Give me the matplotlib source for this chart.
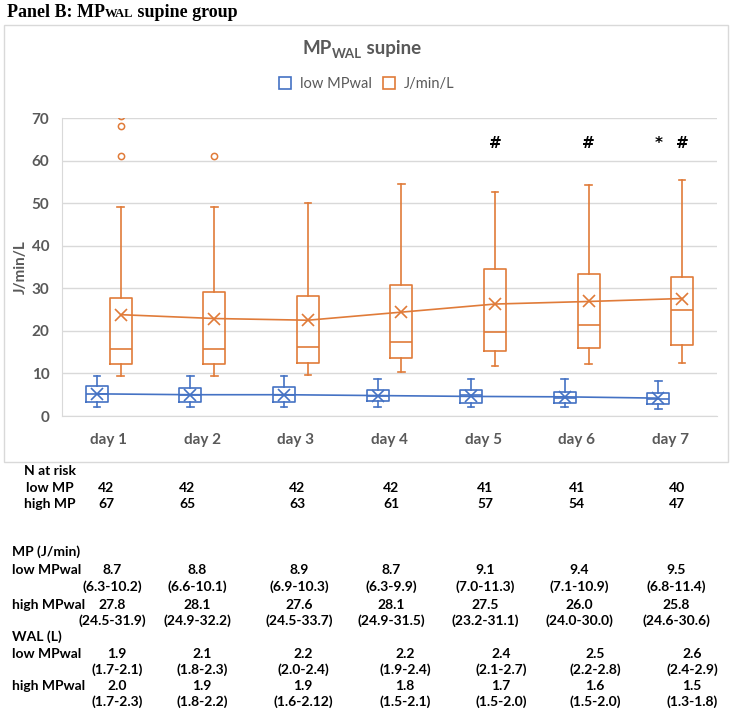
import matplotlib
matplotlib.use('Agg')
import matplotlib.pyplot as plt
from matplotlib.patches import Patch, Rectangle

days = ['day 1', 'day 2', 'day 3', 'day 4', 'day 5', 'day 6', 'day 7']
series = ['low MPwal', 'J/min/L']

low_whislo = [2.2, 2.2, 2.2, 2.2, 2.0, 2.2, 1.6]
low_q1 = [3.4, 3.4, 3.4, 3.5, 3.0, 3.0, 2.8]
low_med = [5.2, 4.9, 5.0, 4.8, 4.9, 4.2, 3.9]
low_q3 = [7.1, 6.5, 6.9, 6.0, 6.0, 5.7, 5.3]
low_whishi = [9.3, 9.3, 9.3, 8.7, 8.7, 8.7, 8.3]
low_mean = [5.2, 5.0, 5.0, 4.8, 4.6, 4.5, 4.2]

high_whislo = [9.4, 9.4, 9.6, 10.4, 11.8, 12.2, 12.4]
high_q1 = [12.3, 12.3, 12.4, 13.6, 15.3, 16.0, 16.6]
high_med = [15.8, 15.8, 16.2, 17.5, 19.7, 21.4, 24.8]
high_q3 = [27.7, 29.2, 28.2, 30.7, 34.6, 33.4, 32.7]
high_whishi = [49.2, 49.2, 50.1, 54.6, 52.6, 54.2, 55.5]
high_mean = [23.8, 22.9, 22.5, 24.4, 26.3, 26.9, 27.6]
high_fliers = [[61.1, 68.2, 70.4], [61.0], [], [], [], [], []]

sig_low = ['', '', '', '', '', '', '*']
sig_high = ['', '', '', '', '#', '#', '#']
sig_level = 64

n_low = ['42', '42', '42', '42', '41', '41', '40']
n_high = ['67', '65', '63', '61', '57', '54', '47']
mp_low = ['8.7', '8.8', '8.9', '8.7', '9.1', '9.4', '9.5']
mp_low_iqr = ['(6.3-10.2)', '(6.6-10.1)', '(6.9-10.3)', '(6.3-9.9)',
              '(7.0-11.3)', '(7.1-10.9)', '(6.8-11.4)']
mp_high = ['27.8', '28.1', '27.6', '28.1', '27.5', '26.0', '25.8']
mp_high_iqr = ['(24.5-31.9)', '(24.9-32.2)', '(24.5-33.7)', '(24.9-31.5)',
               '(23.2-31.1)', '(24.0-30.0)', '(24.6-30.6)']
wal_low = ['1.9', '2.1', '2.2', '2.2', '2.4', '2.5', '2.6']
wal_low_iqr = ['(1.7-2.1)', '(1.8-2.3)', '(2.0-2.4)', '(1.9-2.4)',
               '(2.1-2.7)', '(2.2-2.8)', '(2.4-2.9)']
wal_high = ['2.0', '1.9', '1.9', '1.8', '1.7', '1.6', '1.5']
wal_high_iqr = ['(1.7-2.3)', '(1.8-2.2)', '(1.6-2.12)', '(1.5-2.1)',
                '(1.5-2.0)', '(1.5-2.0)', '(1.3-1.8)']

BLUE = '#4472C4'
ORANGE = '#E07B39'
GRAY = '#595959'
GRID = '#d9d9d9'
W, H = 750, 710
SANS = ['Lato', 'DejaVu Sans']
NARROW = ['Liberation Sans Narrow', 'Lato', 'DejaVu Sans']


def px(x, y):
    return x / W, 1 - y / H


fig = plt.figure(figsize=(7.5, 7.1), dpi=100)
fig.patches.append(Rectangle(px(4, 462), 724 / W, 437 / H, transform=fig.transFigure,
                             fill=False, edgecolor=GRID, linewidth=1))

ax = fig.add_axes([62 / W, 1 - 416 / H, 655 / W, 298 / H])


def stats(lo, q1, med, q3, hi, mean, fl):
    return [dict(whislo=lo[i], q1=q1[i], med=med[i], q3=q3[i], whishi=hi[i],
                 mean=mean[i], fliers=fl[i]) for i in range(len(days))]


off = 0.128
groups = [
    (stats(low_whislo, low_q1, low_med, low_q3, low_whishi, low_mean, [[]] * 7), -off, BLUE, low_mean),
    (stats(high_whislo, high_q1, high_med, high_q3, high_whishi, high_mean, high_fliers), off, ORANGE, high_mean),
]
for st, o, c, mean in groups:
    pos = [i + o for i in range(len(days))]
    lp = dict(color=c, linewidth=1.2)
    ax.bxp(st, positions=pos, widths=0.235, showmeans=True, patch_artist=False,
           boxprops=lp, whiskerprops=lp, capprops=lp, medianprops=lp,
           capwidths=0.07,
           meanprops=dict(marker='x', markeredgecolor=c, markersize=8, markeredgewidth=1.2),
           flierprops=dict(marker='o', markerfacecolor='none', markeredgecolor=c,
                           markersize=4.5, markeredgewidth=1.1),
           manage_ticks=False)
    ax.plot(pos, mean, color=c, linewidth=1.2, zorder=1)

for i in range(len(days)):
    ax.text(i - off, sig_level, sig_low[i], ha='center', va='center', fontsize=11,
            fontweight='bold', color='black')
    ax.text(i + off, sig_level, sig_high[i], ha='center', va='center', fontsize=11,
            fontweight='bold', color='black')

ax.set_xlim(-0.5, len(days) - 0.5)
ax.set_ylim(0, 70)
ax.set_yticks(range(0, 71, 10))
ax.set_xticks(range(len(days)))
ax.set_xticklabels(days)
ax.grid(axis='y', color=GRID, linewidth=1)
ax.set_axisbelow(True)
for s in ['top', 'right']:
    ax.spines[s].set_visible(False)
for s in ['left', 'bottom']:
    ax.spines[s].set_color(GRID)
ax.tick_params(length=0, labelcolor=GRAY, labelsize=11)
ax.tick_params(axis='y', pad=9)
ax.tick_params(axis='x', pad=12)
for lab in ax.get_xticklabels() + ax.get_yticklabels():
    lab.set_family(SANS)
    lab.set_fontweight('bold')
ax.set_ylabel('J/min/L', color=GRAY, fontsize=11, fontweight='bold', family=SANS, labelpad=3)

handles = [Patch(facecolor='none', edgecolor=BLUE, linewidth=1.2),
           Patch(facecolor='none', edgecolor=ORANGE, linewidth=1.2)]
fig.legend(handles, series, loc='center', bbox_to_anchor=px(367, 84), ncol=2, frameon=False,
           handlelength=0.8, handleheight=0.8, handletextpad=0.6, columnspacing=0.8,
           prop=dict(family=SANS, size=10.5), labelcolor=GRAY)

fig.canvas.draw()
renderer = fig.canvas.get_renderer()


def rich(x, y, parts, **kw):
    # parts: (text, size, drop in px)
    for text, size, dy in parts:
        t = fig.text(*px(x, y + dy), text, fontsize=size, ha='left', va='baseline', **kw)
        x += t.get_window_extent(renderer).width


rich(7, 17, [('Panel B: MP', 13, 0), ('WAL', 9, 0), (' supine group', 13, 0)],
     family=['Liberation Serif', 'DejaVu Serif'], fontweight='bold', color='black')
rich(303, 54, [('MP', 13.5, 0), ('WAL', 9.5, 4), (' supine', 13.5, 0)],
     family=SANS, fontweight='bold', color=GRAY)

tk = dict(family=NARROW, fontweight='bold', fontsize=10, color='black', va='center')
fig.text(*px(50, 471), 'N at risk', ha='center', **tk)
fig.text(*px(50, 488), 'low MP', ha='center', **tk)
fig.text(*px(50, 504), 'high MP', ha='center', **tk)
fig.text(*px(12, 552), 'MP (J/min)', ha='left', **tk)
fig.text(*px(12, 570), 'low MPwal', ha='left', **tk)
fig.text(*px(12, 605), 'high MPwal', ha='left', **tk)
fig.text(*px(12, 637), 'WAL (L)', ha='left', **tk)
fig.text(*px(12, 654), 'low MPwal', ha='left', **tk)
fig.text(*px(12, 686), 'high MPwal', ha='left', **tk)

n_x = [106, 187, 297, 391, 485, 577, 677]
mp_x = [112, 197, 299, 391, 485, 579, 676]
wal_x = [117, 202, 303, 405, 501, 595, 692]
rows = [(n_low, n_x, 488), (n_high, n_x, 504),
        (mp_low, mp_x, 570), (mp_low_iqr, mp_x, 587),
        (mp_high, mp_x, 605), (mp_high_iqr, mp_x, 621),
        (wal_low, wal_x, 654), (wal_low_iqr, wal_x, 670),
        (wal_high, wal_x, 686), (wal_high_iqr, wal_x, 702)]
for vals, xs, y in rows:
    for v, x in zip(vals, xs):
        fig.text(*px(x, y), v, ha='center', **tk)

fig.savefig('out.png', dpi=100)
